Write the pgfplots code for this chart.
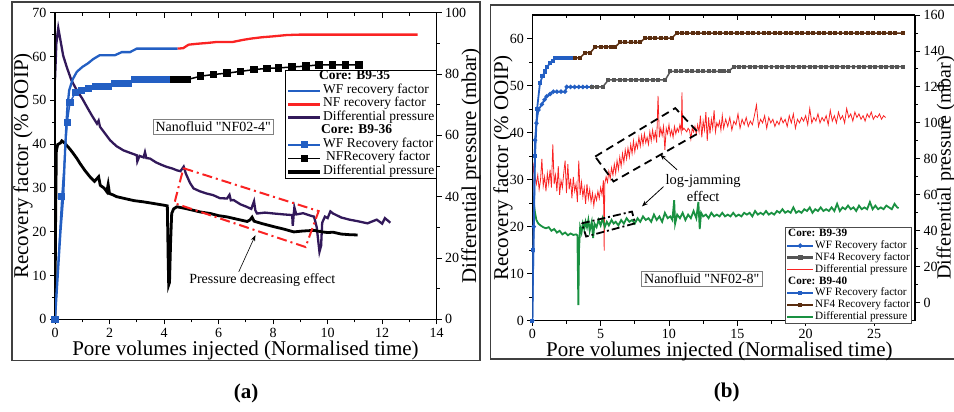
\documentclass[border=0pt]{standalone}
\usepackage{fontspec}
\setmainfont{Liberation Serif}
\usepackage{pgfplots}
\pgfplotsset{compat=1.18}
\usetikzlibrary{arrows.meta}
\definecolor{cblue}{RGB}{35,95,195}
\definecolor{cred}{RGB}{250,35,35}
\definecolor{cpurple}{RGB}{50,25,90}
\definecolor{cbrown}{RGB}{90,45,15}
\definecolor{cgray}{RGB}{85,85,85}
\definecolor{cgreen}{RGB}{25,145,65}
\pgfplotsset{
 base/.style={scale only axis, anchor=south west, tick align=outside,
   /pgf/number format/assume math mode=true,
   tick label style={font=\fontsize{14}{16}\selectfont},
   label style={font=\fontsize{21}{24}\selectfont},
   major tick length=5pt, minor tick length=3pt,
   axis line style={line width=1.1pt},
   every tick/.append style={line width=0.9pt, black}},
 aL/.style={base, at={(55pt,92.7pt)}, width=381.7pt, height=306.6pt, xmin=0, xmax=14},
 bL/.style={base, at={(532.3pt,91.3pt)}, width=382.7pt, height=305.7pt, xmin=0, xmax=28},
}
\begin{document}
\begin{tikzpicture}[x=1pt,y=1pt]
\useasboundingbox (0,0) rectangle (954,412);
\clip (0,0) rectangle (954,412);
\draw[line width=1.2pt, black!75] (12,51.3) rectangle (480,410);
\draw[line width=1.2pt, black!75] (490.7,53) rectangle (970,407);
\node[font=\bfseries\fontsize{21}{24}\selectfont] at (246,19) {(a)};
\node[font=\bfseries\fontsize{21}{24}\selectfont] at (726.7,19.3) {(b)};

% ---------------- Panel (a): right axis (pressure) ----------------
\begin{axis}[aL, axis y line*=right, axis x line=none, ymin=0, ymax=100,
  ytick={0,20,...,100}, minor y tick num=1,
  ylabel={Differential pressure (mbar)},
  ylabel style={at={(axis description cs:1.0899,0.5)}, anchor=center}]
\addplot[cpurple, line width=2.3pt] coordinates {(0.0,78) (0.05,90) (0.12,95) (0.2,91) (0.3,86) (0.43,82.3) (0.6,78) (0.8,74.7) (1.0,72) (1.17,69.3) (1.35,66.5) (1.54,63.8) (1.6,64.8) (1.65,62.8) (1.8,61) (2.02,58.4) (2.25,56.5) (2.51,55.1) (2.75,54.3) (3.0,53.5) (3.02,51.5) (3.1,53.3) (3.25,52.8) (3.3,54.5) (3.35,52.6) (3.49,52.4) (3.7,51.2) (3.9,50.4) (4.1,49.7) (4.3,49.2) (4.47,48.6) (4.6,48.3) (4.72,49.8) (4.8,47.5) (4.95,44.5) (5.08,42.7) (5.3,41.8) (5.57,41.0) (5.8,40.5) (6.05,39.5) (6.31,39.4) (6.4,40.6) (6.45,38.8) (6.55,38.9) (6.8,37.5) (7.0,36.8) (7.2,36) (7.3,38.5) (7.35,35.5) (7.41,34.5) (7.7,34.8) (8.03,34.5) (8.4,34.2) (8.7,34.0) (8.72,30.5) (8.76,34.6) (8.78,36.5) (8.85,34.2) (9.1,34.6) (9.37,33.8) (9.5,33.5) (9.6,30) (9.7,22.0) (9.76,24) (9.8,31.5) (9.9,33.5) (10.0,33.0) (10.1,35.2) (10.2,34.5) (10.5,33.2) (10.8,32.5) (11.1,32.0) (11.46,31.3) (11.8,32.5) (12.0,31.2) (12.1,33.0) (12.3,31.5)};
\addplot[black, line width=2.8pt] coordinates {(0,0) (0.02,30) (0.05,55) (0.1,57) (0.2,57.5) (0.25,58.2) (0.35,57.5) (0.45,56.5) (0.55,55.5) (0.67,54.1) (0.8,52.5) (0.92,50.8) (1.1,48.5) (1.29,46.4) (1.45,45) (1.6,46.5) (1.66,43.7) (1.8,42.8) (1.9,41.6) (1.95,44) (2.0,41) (2.15,40.5) (2.26,40.0) (2.6,39.3) (2.9,38.7) (3.25,38.3) (3.6,37.8) (4.0,37.2) (4.12,37.0) (4.15,20) (4.17,11.2) (4.2,12) (4.24,25) (4.28,34.5) (4.35,36) (4.47,36.7) (4.7,36.3) (5.0,35.7) (5.33,35.0) (5.7,34.5) (6.0,33.8) (6.31,33.4) (6.7,32.6) (7.05,31.9) (7.15,32.4) (7.23,33.3) (7.3,32.0) (7.6,31.2) (8.03,30.2) (8.4,29.4) (8.76,28.5) (9.1,28.8) (9.5,29.0) (9.8,28.5) (10.0,28.3) (10.2,28.4) (10.5,27.8) (10.8,27.6) (11.1,27.5)};
\end{axis}

% ---------------- Panel (a): left axis (recovery) ----------------
\begin{axis}[aL, axis y line*=left, axis x line*=bottom, ymin=0, ymax=70,
  ytick={0,10,...,70}, minor y tick num=1,
  xtick={0,2,...,14}, minor x tick num=1,
  xlabel={Pore volumes injected (Normalised time)},
  ylabel={Recovery factor (\% OOIP)},
  xlabel style={at={(axis description cs:0.499,-0.1197)}, anchor=base},
  ylabel style={at={(axis description cs:-0.0838,0.5)}, anchor=center},
  legend cell align=left,
  legend style={at={(1,0.813)}, anchor=north east, draw=black, line width=0.8pt, fill=white,
    font=\fontsize{13.5}{15}\selectfont, inner xsep=1pt, inner ysep=1pt, row sep=1.8pt,
    nodes={inner sep=1pt, text height=0.75em, text depth=0.22em}},
  legend image code/.code={\draw[mark repeat=2,mark phase=2,#1] plot coordinates {(0pt,0pt) (16pt,0pt) (32pt,0pt)};}]
\addlegendimage{empty legend}\addlegendentry{\hspace*{-4pt}\textbf{Core: B9-35}}
\addlegendimage{cblue, line width=2.5pt}\addlegendentry{WF recovery factor}
\addlegendimage{cred, line width=2.5pt}\addlegendentry{NF recovery factor}
\addlegendimage{cpurple, line width=3pt}\addlegendentry{Differential pressure}
\addlegendimage{empty legend}\addlegendentry{\hspace*{-2pt}\textbf{Core: B9-36}}
\addlegendimage{cblue, line width=1.5pt, mark=square*, mark size=2.8pt}\addlegendentry{WF Recovery factor}
\addlegendimage{black, line width=1.5pt, mark=square*, mark size=3pt}\addlegendentry{\hspace*{3pt}NFRecovery factor}
\addlegendimage{black, line width=3.5pt}\addlegendentry{Differential pressure}
\draw[cred, line width=2pt, dash pattern=on 10pt off 4pt on 2pt off 4pt] (axis cs:4.71,34.5) -- (axis cs:9.67,24.7) -- (axis cs:9.19,16.5) -- (axis cs:4.38,26.5) -- cycle;
\draw[-{Stealth[length=6pt]}, line width=0.6pt] (axis cs:6.74,10.85) -- (axis cs:7.35,19.2);
\node[font=\fontsize{14}{16}\selectfont] at (axis cs:7.6,9.0) {Pressure decreasing effect};
\node[draw=black!50, line width=0.7pt, fill=white, font=\fontsize{14}{16}\selectfont, inner sep=2.5pt] at (axis cs:5.8,43.9) {Nanofluid \textquotedbl NF02-4\textquotedbl};
\addplot[cblue, line width=2.3pt, forget plot] coordinates {(0,0) (0.08,8) (0.2,20) (0.3,28) (0.38,40) (0.45,48) (0.52,52.3) (0.65,54.8) (0.8,56.5) (1.0,57.6) (1.2,58.4) (1.4,59.4) (1.64,60.3) (2.2,60.3) (2.45,61) (2.75,61) (3.0,61.8) (4.5,61.8)};
\addplot[cred, line width=2.3pt, forget plot] coordinates {(4.5,61.8) (4.7,61.9) (4.9,62.7) (5.2,62.9) (5.6,63.1) (5.9,63.3) (6.5,63.3) (6.9,63.8) (7.2,64.1) (7.6,64.4) (8.0,64.6) (8.5,64.9) (9.0,65.0) (13.3,65.0)};
\addplot[cblue, line width=1.5pt, mark=square*, mark size=2.8pt, forget plot] coordinates {(0,0) (0.25,28) (0.45,45) (0.55,49.5) (0.75,51.8) (0.98,52.3) (1.23,52.7) (1.47,53.2) (1.72,53.2) (1.96,53.2) (2.2,53.9) (2.45,53.9) (2.7,53.9) (2.9,54.7) (3.15,54.7) (3.4,54.7) (3.65,54.7) (3.9,54.7) (4.15,54.7) (4.35,54.7)};
\addplot[black, line width=1.5pt, mark=square*, mark size=3pt, forget plot] coordinates {(4.35,54.7) (4.6,54.7) (4.84,54.7) (5.33,55.5) (5.82,55.9) (6.31,56.2) (6.8,56.6) (7.29,57.0) (7.78,57.3) (8.2,57.4) (8.7,57.6) (9.2,57.8) (9.68,58.1) (10.17,58.1) (10.66,58.1) (11.15,58.1)};
\end{axis}

% top ticks (a)
\begin{axis}[aL, axis x line*=top, axis y line=none, tick align=inside, ymin=0, ymax=1,
  xtick={0,2,...,14}, minor x tick num=1, xticklabels={}]
\end{axis}

% ---------------- Panel (b): right axis (pressure) ----------------
\begin{axis}[bL, axis y line*=right, axis x line=none, ymin=-10, ymax=160,
  ytick={0,20,...,160}, minor y tick num=1,
  ylabel={Differential pressure (mbar)},
  ylabel style={at={(axis description cs:1.0805,0.5)}, anchor=center, font=\fontsize{20}{23}\selectfont}]
\addplot[cred, line width=0.8pt] coordinates {(0.0,20) (0.05,78) (0.1,74) (0.2,70) (0.3,66) (0.4,71) (0.5,63) (0.6,68) (0.7,80) (0.8,65) (0.9,70) (1.0,62) (1.1,72) (1.2,66) (1.3,74) (1.4,64) (1.5,88) (1.6,66) (1.7,71) (1.8,62) (1.9,76) (2.0,60) (2.1,68) (2.2,64) (2.3,72) (2.4,79) (2.5,61) (2.6,77) (2.7,63) (2.8,69) (2.9,58) (3.0,70) (3.1,62) (3.2,66) (3.3,56) (3.4,79) (3.5,60) (3.6,67) (3.7,59) (3.8,64) (3.9,55) (4.0,66) (4.1,58) (4.2,63) (4.3,56) (4.4,61) (4.5,54) (4.6,60) (4.7,57) (4.8,62) (4.9,58) (5.0,64) (5.1,60) (5.2,68) (5.26,29) (5.3,66) (5.4,70) (5.5,67) (5.6,73) (5.7,69) (5.8,75) (5.9,71) (6.0,77) (6.1,72) (6.2,79) (6.3,74) (6.4,81) (6.5,76) (6.6,83) (6.7,78) (6.8,85) (6.9,80) (7.0,86) (7.1,81) (7.2,88) (7.3,83) (7.4,90) (7.5,84) (7.6,89) (7.7,86) (7.8,92) (7.9,87) (8.0,93) (8.1,88) (8.2,94) (8.3,89) (8.4,92) (8.5,88) (8.6,95) (8.7,90) (8.8,96) (8.9,91) (9.0,95) (9.1,89) (9.2,115) (9.3,92) (9.4,97) (9.5,93) (9.6,98) (9.7,85) (9.8,97) (9.9,94) (10.0,99) (10.1,93) (10.2,96) (10.3,92) (10.4,98) (10.5,94) (10.6,97) (10.7,95) (10.8,99) (10.9,95) (10.95,117) (11.0,96) (11.1,97) (11.2,96) (11.3,95) (11.4,97) (11.5,96) (11.6,91) (11.7,97) (11.8,95) (11.9,98) (12.0,94) (12.1,99) (12.2,95) (12.3,104) (12.4,92) (12.5,101) (12.6,96) (12.7,106) (12.8,90) (12.9,103) (13.0,94) (13.1,102) (13.2,97) (13.3,107) (13.4,95) (13.5,100) (13.6,98) (13.7,101) (13.8,96) (13.9,104) (14.0,97) (14.15,102) (14.3,98) (14.45,103) (14.6,96) (14.75,101) (14.9,99) (15.05,105) (15.2,97) (15.35,102) (15.5,99) (15.65,103) (15.8,98) (15.95,101) (16.1,99) (16.25,104) (16.4,110) (16.55,98) (16.7,102) (16.85,100) (17.0,104) (17.15,97) (17.3,103) (17.45,100) (17.6,102) (17.75,98) (17.9,101) (18.05,99) (18.2,103) (18.35,100) (18.5,102) (18.65,98) (18.8,104) (18.95,100) (19.1,105) (19.25,97) (19.4,102) (19.55,100) (19.7,103) (19.85,101) (20.0,104) (20.15,99) (20.3,108) (20.45,100) (20.6,103) (20.75,101) (20.9,105) (21.05,100) (21.2,103) (21.35,101) (21.5,104) (21.65,99) (21.8,107) (21.95,101) (22.1,104) (22.25,100) (22.4,106) (22.55,102) (22.7,104) (22.85,100) (23.0,108) (23.15,103) (23.3,105) (23.45,101) (23.6,106) (23.75,103) (23.9,105) (24.05,102) (24.2,104) (24.35,101) (24.5,105) (24.65,103) (24.8,106) (24.95,102) (25.1,104) (25.25,103) (25.4,105) (25.55,102) (25.7,104) (25.85,103)};
\addplot[cgreen, line width=1.8pt] coordinates {(0.0,10) (0.03,58) (0.1,56) (0.2,50) (0.3,46) (0.44,44) (0.6,43) (0.8,42) (1.0,41.4) (1.2,42) (1.4,40) (1.6,41) (1.8,39) (2.0,40) (2.2,38) (2.4,39) (2.6,37.5) (2.8,38.5) (3.0,37.7) (3.2,38) (3.3,37.5) (3.37,-1.3) (3.42,30) (3.5,42) (3.6,39) (3.7,44) (3.8,41) (3.9,45) (4.0,42) (4.1,46) (4.2,40) (4.35,45) (4.45,36) (4.55,44) (4.7,42) (4.85,46) (5.0,43) (5.15,47) (5.3,42) (5.45,45) (5.6,43) (5.8,46) (5.95,44) (6.1,45) (6.3,43) (6.5,46) (6.7,44) (6.9,47) (7.1,45) (7.3,46) (7.5,44) (7.7,47) (7.9,45) (8.1,48) (8.3,46) (8.5,47) (8.7,45) (8.9,49) (9.1,46) (9.3,48) (9.5,45) (9.7,50) (9.9,47) (10.1,48) (10.25,46) (10.38,57) (10.45,44) (10.6,49) (10.8,47) (11.0,50) (11.2,46) (11.4,49) (11.6,47) (11.8,51) (12.0,47) (12.15,56) (12.25,41) (12.35,50) (12.5,48) (12.7,49) (12.9,47) (13.1,50) (13.3,48) (13.5,49) (13.7,48) (13.9,50) (14.1,48) (14.3,49) (14.5,48) (14.7,50) (14.9,48) (15.1,49) (15.3,48) (15.5,50) (15.7,49) (15.9,50) (16.1,48) (16.3,51) (16.5,49) (16.7,50) (16.9,49) (17.1,51) (17.3,49) (17.5,50) (17.7,49) (17.9,51) (18.1,50) (18.3,52) (18.5,50) (18.7,51) (18.9,50) (19.1,53) (19.3,50) (19.5,51) (19.7,50) (19.9,52) (20.1,51) (20.3,53) (20.5,50) (20.7,52) (20.9,51) (21.1,53) (21.3,51) (21.5,52) (21.7,51) (21.9,53) (22.1,51) (22.3,55) (22.5,51) (22.7,53) (22.9,52) (23.1,54) (23.3,52) (23.5,53) (23.7,51) (23.9,54) (24.1,52) (24.3,53) (24.5,52) (24.7,56) (24.9,52) (25.1,54) (25.3,52) (25.5,53) (25.7,52) (25.9,54) (26.1,53) (26.3,52) (26.5,55) (26.7,53) (26.8,52.6)};
\end{axis}

% ---------------- Panel (b): left axis (recovery) ----------------
\begin{axis}[bL, axis y line*=left, axis x line*=bottom, ymin=0, ymax=65,
  ytick={0,10,...,60}, minor y tick num=1,
  xtick={0,5,...,25}, minor x tick num=1,
  xlabel={Pore volumes injected (Normalised time)},
  ylabel={Recovery factor (\% OOIP)},
  xlabel style={at={(axis description cs:0.4887,-0.1185)}, anchor=base},
  ylabel style={at={(axis description cs:-0.0766,0.5)}, anchor=center},
  legend cell align=left,
  legend style={at={(0.992,-0.011)}, anchor=south east, draw=black!70, line width=0.7pt, fill=white,
    font=\fontsize{11.2}{13}\selectfont, inner xsep=1pt, inner ysep=1pt, row sep=0.6pt,
    nodes={inner sep=0.8pt, text height=0.75em, text depth=0.22em}},
  legend image code/.code={\draw[mark repeat=2,mark phase=2,#1] plot coordinates {(0pt,0pt) (13pt,0pt) (26pt,0pt)};}]
\addlegendimage{empty legend}\addlegendentry{\hspace*{-27pt}\textbf{Core: B9-39}}
\addlegendimage{cblue, line width=1.8pt, mark=*, mark size=1.3pt}\addlegendentry{WF Recovery factor}
\addlegendimage{cgray, line width=2.2pt, mark=square*, mark size=1.3pt}\addlegendentry{NF4 Recovery factor}
\addlegendimage{draw=cred, color=cred, line width=1.6pt}\addlegendentry{Differential pressure}
\addlegendimage{empty legend}\addlegendentry{\hspace*{-27pt}\textbf{Core: B9-40}}
\addlegendimage{cblue, line width=1.8pt, mark=square*, mark size=1.3pt}\addlegendentry{WF Recovery factor}
\addlegendimage{cbrown, line width=1.5pt, mark=square*, mark size=1.3pt}\addlegendentry{NF4 Recovery factor}
\addlegendimage{cgreen, line width=2.5pt}\addlegendentry{Differential pressure}
\draw[black, line width=1.8pt, dash pattern=on 8pt off 5pt] (axis cs:4.6,34.9) -- (axis cs:10.46,45.2) -- (axis cs:12.17,39.9) -- (axis cs:5.94,29.6) -- cycle;
\draw[black, line width=1.8pt, dash pattern=on 8pt off 3pt on 2pt off 3pt] (axis cs:3.62,20.7) -- (axis cs:7.29,23.2) -- (axis cs:7.53,20.7) -- (axis cs:3.94,17.9) -- cycle;
\draw[-{Stealth[length=6pt]}, line width=0.8pt] (axis cs:10.59,32.1) -- (axis cs:9.36,35.3);
\draw[-{Stealth[length=6pt]}, line width=0.8pt] (axis cs:9.6,28.5) -- (axis cs:8.02,24.3);
\node[align=center, font=\fontsize{14.5}{16.7}\selectfont] at (axis cs:12.5,28.2) {log-jamming\\effect};
\node[draw=black!50, line width=0.7pt, fill=white, font=\fontsize{14}{16}\selectfont, inner sep=2.5pt] at (axis cs:12.4,9.0) {Nanofluid \textquotedbl NF02-8\textquotedbl};
\addplot[cblue, line width=1.8pt, mark=*, mark size=1.2pt, forget plot] coordinates {(0,0) (0.1,20) (0.2,38.4) (0.3,42) (0.44,44.8) (0.7,46) (0.9,47) (1.05,47.7) (1.3,48.2) (1.54,48.7) (1.8,48.7) (2.1,48.7) (2.4,48.7) (2.52,49.7) (2.8,49.7) (3.1,49.7) (3.4,49.7) (3.7,49.7) (4.0,49.7) (4.35,49.7)};
\addplot[cgray, line width=1.5pt, mark=square*, mark size=1.2pt, forget plot] coordinates {(4.35,49.7) (4.75,49.7) (5.15,49.7) (5.57,51.2) (6.0,51.2) (6.4,51.2) (6.8,51.2) (7.2,51.2) (7.6,51.2) (8.0,51.2) (8.4,51.2) (8.8,51.2) (9.2,51.2) (9.73,51.2) (10.1,53.0) (10.5,53) (10.9,53) (11.3,53) (11.7,53) (12.1,53) (12.5,53) (12.9,53) (13.3,53) (13.7,53) (14.0,53) (14.37,53) (14.74,54) (15.1,54) (15.5,54) (15.9,54) (16.3,54) (16.7,54) (17.1,54) (17.5,54) (17.9,54) (18.3,54) (18.7,54) (19.1,54) (19.5,54) (19.9,54) (20.3,54) (20.7,54) (21.1,54) (21.5,54) (21.9,54) (22.3,54) (22.7,54) (23.1,54) (23.5,54) (23.9,54) (24.3,54) (24.7,54) (25.1,54) (25.5,54) (25.9,54) (26.3,54) (26.7,54) (27.1,54)};
\addplot[cblue, line width=1.8pt, mark=square*, mark size=1.2pt, forget plot] coordinates {(0,0) (0.08,15) (0.2,35) (0.35,45) (0.56,50.5) (0.75,52) (0.93,53.0) (1.1,54) (1.3,54.8) (1.5,55.3) (1.66,55.9) (1.95,55.9) (2.25,55.9) (2.55,55.9) (2.85,55.9) (3.13,55.9)};
\addplot[cbrown, line width=1.5pt, mark=square*, mark size=1.2pt, forget plot] coordinates {(3.13,55.9) (3.5,55.9) (3.87,57.0) (4.25,57.0) (4.6,58.2) (5.0,58.2) (5.4,58.2) (5.75,58.2) (6.06,58.2) (6.43,59.2) (6.8,59.2) (7.2,59.2) (7.55,59.2) (7.9,59.2) (8.25,60.1) (8.6,60.1) (9.0,60.1) (9.4,60.1) (9.8,60.1) (10.2,60.1) (10.58,61.15) (10.95,61.15) (11.35,61.15) (11.75,61.15) (12.15,61.15) (12.55,61.15) (12.95,61.15) (13.35,61.15) (13.75,61.15) (14.15,61.15) (14.55,61.15) (14.95,61.15) (15.35,61.15) (15.75,61.15) (16.15,61.15) (16.55,61.15) (16.95,61.15) (17.35,61.15) (17.75,61.15) (18.15,61.15) (18.55,61.15) (18.95,61.15) (19.35,61.15) (19.75,61.15) (20.15,61.15) (20.55,61.15) (20.95,61.15) (21.35,61.15) (21.75,61.15) (22.15,61.15) (22.55,61.15) (22.95,61.15) (23.35,61.15) (23.75,61.15) (24.15,61.15) (24.55,61.15) (24.95,61.15) (25.35,61.15) (25.75,61.15) (26.15,61.15) (26.55,61.15) (27.1,61.15)};
\end{axis}

% top ticks (b)
\begin{axis}[bL, axis x line*=top, axis y line=none, tick align=inside, ymin=0, ymax=1,
  xtick={0,5,...,25}, minor x tick num=1, xticklabels={}]
\end{axis}
\end{tikzpicture}
\end{document}
